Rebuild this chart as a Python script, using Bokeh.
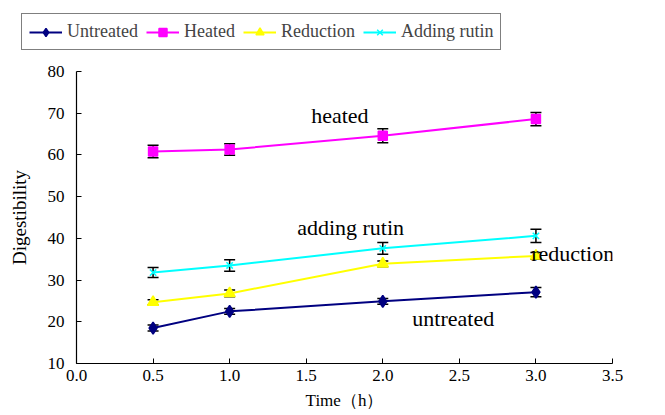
from bokeh.plotting import figure
from bokeh.layouts import column
from bokeh.models import (Legend, LegendItem, Whisker, ColumnDataSource, Label, TeeHead,
                          Range1d, FixedTicker, NumeralTickFormatter)
from bokeh.embed import file_html
from bokeh.resources import INLINE

time_h = [0.5, 1.0, 2.0, 3.0]
untreated = [18.5, 22.5, 24.9, 27.1]
untreated_err = [0.7, 0.7, 0.7, 1.1]
heated = [60.8, 61.3, 64.6, 68.6]
heated_err = [1.5, 1.4, 1.7, 1.6]
reduction = [24.7, 26.8, 33.9, 35.8]
reduction_err = [0.6, 0.8, 0.7, 0.8]
rutin = [31.8, 33.5, 37.6, 40.6]
rutin_err = [1.2, 1.4, 1.4, 1.6]

series_names = ["Untreated", "Heated", "Reduction", "Adding rutin"]
series_colors = ["#000080", "#FF00FF", "#FFFF00", "#00FFFF"]
series_markers = ["diamond", "square", "triangle", "x"]
series_sizes = [12, 9, 11, 9]
annotations = [("heated", 1.72, 69.5), ("adding rutin", 1.79, 42.5),
               ("reduction", 3.24, 36.3), ("untreated", 2.46, 20.8)]

FONT = "Liberation Serif"
LEG_H = 56

p = figure(width=665, height=415 - LEG_H, output_backend="svg", toolbar_location=None,
           x_range=Range1d(0, 3.5), y_range=Range1d(10, 80),
           min_border_left=76, min_border_right=53, min_border_top=71 - LEG_H,
           min_border_bottom=52,
           x_axis_label="Time\uff08h\uff09", y_axis_label="Digestibility")
p.outline_line_color = None
p.xgrid.visible = False
p.ygrid.visible = False

for ax in (p.xaxis[0], p.yaxis[0]):
    ax.axis_line_color = "black"
    ax.axis_line_width = 1.2
    ax.major_tick_line_color = "black"
    ax.major_tick_in = 5
    ax.major_tick_out = 0
    ax.minor_tick_line_color = None
    ax.major_label_text_font = FONT
    ax.major_label_text_font_size = "17px"
    ax.major_label_text_color = "black"
    ax.axis_label_text_font = FONT
    ax.axis_label_text_font_size = "17px"
    ax.axis_label_text_font_style = "normal"
    ax.axis_label_text_color = "black"

p.xaxis[0].ticker = FixedTicker(ticks=[0, 0.5, 1, 1.5, 2, 2.5, 3, 3.5])
p.xaxis[0].formatter = NumeralTickFormatter(format="0.0")
p.xaxis[0].major_label_standoff = 6
p.xaxis[0].axis_label_standoff = 7
p.yaxis[0].ticker = FixedTicker(ticks=[10, 20, 30, 40, 50, 60, 70, 80])
p.yaxis[0].major_label_standoff = 12
p.yaxis[0].axis_label_standoff = 15
p.yaxis[0].axis_label_text_font_size = "19px"

all_vals = [untreated, heated, reduction, rutin]
all_errs = [untreated_err, heated_err, reduction_err, rutin_err]

for vals, errs, c, m, s in zip(all_vals, all_errs, series_colors, series_markers, series_sizes):
    src = ColumnDataSource(dict(x=time_h, y=vals,
                                lo=[v - e for v, e in zip(vals, errs)],
                                hi=[v + e for v, e in zip(vals, errs)]))
    p.line("x", "y", source=src, line_color=c, line_width=2)
    p.add_layout(Whisker(source=src, base="x", lower="lo", upper="hi",
                         line_color="black", line_width=1.5,
                         upper_head=TeeHead(size=11, line_color="black", line_width=1.5),
                         lower_head=TeeHead(size=11, line_color="black", line_width=1.5)))
    p.scatter("x", "y", source=src, marker=m, size=s, fill_color=c,
              line_color=c, line_width=1.5)

for txt, x, y in annotations:
    p.add_layout(Label(x=x, y=y, text=txt, text_font=FONT, text_font_size="22px",
                       text_align="center", text_baseline="middle", text_color="black"))

# legend strip on top: same series, plotted out of this strip's range, so only keys show
lg = figure(width=665, height=LEG_H, output_backend="svg", toolbar_location=None,
            x_range=Range1d(100, 101), y_range=Range1d(100, 101),
            x_axis_location=None, y_axis_location=None, min_border=0)
try:
    lg.frame_align = False
except Exception:
    pass
lg.outline_line_color = None
lg.xgrid.visible = False
lg.ygrid.visible = False
items = []
for n, vals, c, m, s in zip(series_names, all_vals, series_colors, series_markers, series_sizes):
    src = ColumnDataSource(dict(x=time_h, y=vals))
    ln = lg.line("x", "y", source=src, line_color=c, line_width=2)
    mk = lg.scatter("x", "y", source=src, marker=m, size=s - 1, fill_color=c,
                    line_color=c, line_width=1.5)
    items.append(LegendItem(label=n, renderers=[ln, mk], index=0))

legend = Legend(items=items, orientation="horizontal", location=(21, LEG_H - 50),
                label_text_font=FONT, label_text_font_size="18px",
                glyph_width=33, glyph_height=20, label_standoff=5, spacing=8,
                padding=7, margin=0, border_line_color="black", border_line_width=1.5,
                background_fill_color="white", background_fill_alpha=1.0)
lg.add_layout(legend, "center")

open("out.html", "w").write(file_html(column(lg, p, spacing=0), INLINE))
